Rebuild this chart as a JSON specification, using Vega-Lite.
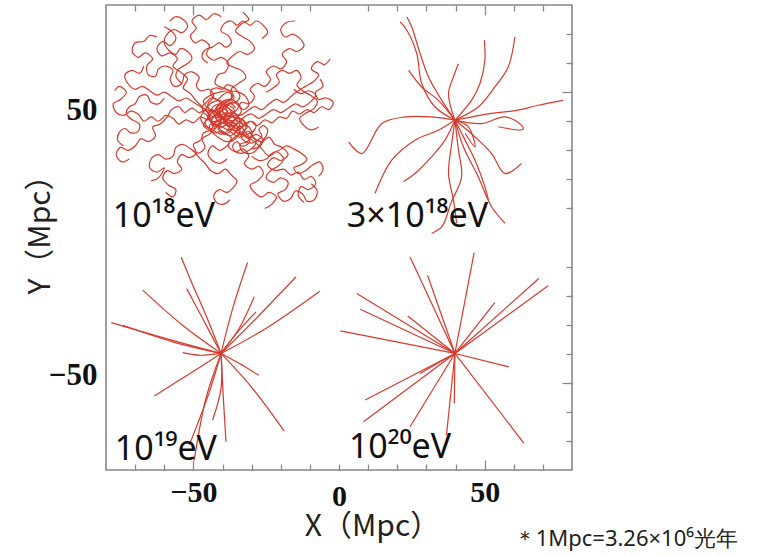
{
  "$schema": "https://vega.github.io/schema/vega-lite/v6.json",
  "width": 466,
  "height": 465,
  "autosize": "none",
  "padding": {"left": 106, "top": 5, "right": 192, "bottom": 87},
  "background": "white",
  "config": {
    "view": {"stroke": "#888888", "strokeWidth": 1.6},
    "axis": {"grid": false, "domain": false, "tickColor": "#888888", "tickWidth": 1.3}
  },
  "title": {
    "text": "＊1Mpc=3.26×10⁶光年",
    "orient": "bottom",
    "anchor": "end",
    "frame": "group",
    "dx": 166,
    "offset": -12,
    "font": "Noto Sans",
    "fontSize": 22,
    "fontWeight": "normal",
    "color": "#222222"
  },
  "datasets": {
    "paths": [
      {"t":"a1","x":-40,"y":41},{"t":"a1","x":-41.5,"y":43},{"t":"a1","x":-44,"y":43.5},{"t":"a1","x":-45,"y":46},{"t":"a1","x":-43,"y":48.5},{"t":"a1","x":-44.5,"y":51},{"t":"a1","x":-47.5,"y":50.5},{"t":"a1","x":-49,"y":52.5},{"t":"a1","x":-48,"y":55},{"t":"a1","x":-50.5,"y":57},{"t":"a1","x":-53,"y":56},{"t":"a1","x":-54,"y":53},{"t":"a1","x":-56.5,"y":52},{"t":"a1","x":-58,"y":54.5},{"t":"a1","x":-57,"y":57.5},{"t":"a1","x":-59.5,"y":59},{"t":"a1","x":-62,"y":58},{"t":"a1","x":-63,"y":55.5},{"t":"a1","x":-65.5,"y":56},{"t":"a1","x":-66,"y":59},{"t":"a1","x":-64,"y":61.5},{"t":"a1","x":-66.5,"y":63.5},{"t":"a1","x":-69,"y":62},{"t":"a1","x":-71,"y":64},{"t":"a1","x":-70,"y":67},{"t":"a1","x":-67,"y":67.5},{"t":"a1","x":-65,"y":69.5},{"t":"a1","x":-62.5,"y":69},
      {"t":"a2","x":-40,"y":41},{"t":"a2","x":-38.5,"y":43.5},{"t":"a2","x":-39.5,"y":46},{"t":"a2","x":-37,"y":47.5},{"t":"a2","x":-37.5,"y":50.5},{"t":"a2","x":-40,"y":51.5},{"t":"a2","x":-42.5,"y":53},{"t":"a2","x":-41.5,"y":56},{"t":"a2","x":-39,"y":57},{"t":"a2","x":-38,"y":60},{"t":"a2","x":-40.5,"y":62},{"t":"a2","x":-43,"y":61},{"t":"a2","x":-45.5,"y":63},{"t":"a2","x":-44.5,"y":66},{"t":"a2","x":-47,"y":68},{"t":"a2","x":-49.5,"y":67},{"t":"a2","x":-51,"y":69.5},{"t":"a2","x":-49,"y":72},{"t":"a2","x":-50.5,"y":74.5},{"t":"a2","x":-48,"y":76.5},{"t":"a2","x":-45.5,"y":75},{"t":"a2","x":-43,"y":77},{"t":"a2","x":-40.5,"y":76},
      {"t":"a3","x":-40,"y":41},{"t":"a3","x":-37.5,"y":42},{"t":"a3","x":-35,"y":44},{"t":"a3","x":-33.5,"y":46.5},{"t":"a3","x":-31,"y":46},{"t":"a3","x":-29,"y":48.5},{"t":"a3","x":-30.5,"y":51},{"t":"a3","x":-28,"y":53},{"t":"a3","x":-25.5,"y":52},{"t":"a3","x":-23.5,"y":54.5},{"t":"a3","x":-25,"y":57},{"t":"a3","x":-22.5,"y":59},{"t":"a3","x":-20,"y":58},{"t":"a3","x":-18,"y":60.5},{"t":"a3","x":-19.5,"y":63},{"t":"a3","x":-17,"y":65},{"t":"a3","x":-14.5,"y":64},{"t":"a3","x":-12,"y":66},{"t":"a3","x":-13.5,"y":68.5},{"t":"a3","x":-16,"y":70},{"t":"a3","x":-18.5,"y":69},{"t":"a3","x":-20,"y":71.5},{"t":"a3","x":-18,"y":74},{"t":"a3","x":-15,"y":74.5},
      {"t":"a4","x":-40,"y":41},{"t":"a4","x":-38,"y":39.5},{"t":"a4","x":-35.5,"y":40.5},{"t":"a4","x":-33,"y":39},{"t":"a4","x":-30.5,"y":40},{"t":"a4","x":-28,"y":38.5},{"t":"a4","x":-25.5,"y":40.5},{"t":"a4","x":-23,"y":39.5},{"t":"a4","x":-20.5,"y":41.5},{"t":"a4","x":-18,"y":41},{"t":"a4","x":-16,"y":43.5},{"t":"a4","x":-13.5,"y":42.5},{"t":"a4","x":-11,"y":44},{"t":"a4","x":-8.5,"y":43},{"t":"a4","x":-6,"y":45},{"t":"a4","x":-3.5,"y":44},{"t":"a4","x":-2,"y":46.5},{"t":"a4","x":-4.5,"y":48},{"t":"a4","x":-7,"y":47.5},{"t":"a4","x":-8,"y":50},{"t":"a4","x":-5.5,"y":52},{"t":"a4","x":-6.5,"y":54.5},
      {"t":"a5","x":-40,"y":41},{"t":"a5","x":-38.5,"y":38.5},{"t":"a5","x":-36,"y":37},{"t":"a5","x":-33.5,"y":35.5},{"t":"a5","x":-31,"y":36.5},{"t":"a5","x":-29,"y":34},{"t":"a5","x":-26.5,"y":33},{"t":"a5","x":-24,"y":34.5},{"t":"a5","x":-22,"y":32},{"t":"a5","x":-19.5,"y":31},{"t":"a5","x":-17.5,"y":28.5},{"t":"a5","x":-20,"y":26.5},{"t":"a5","x":-22.5,"y":27.5},{"t":"a5","x":-24.5,"y":25},{"t":"a5","x":-22,"y":23},{"t":"a5","x":-19,"y":23.5},{"t":"a5","x":-16.5,"y":21.5},{"t":"a5","x":-14,"y":22.5},{"t":"a5","x":-12,"y":20},{"t":"a5","x":-9.5,"y":21},{"t":"a5","x":-8,"y":18.5},{"t":"a5","x":-10.5,"y":16.5},{"t":"a5","x":-13,"y":17.5},{"t":"a5","x":-14,"y":14.5},{"t":"a5","x":-12,"y":12},
      {"t":"a6","x":-40,"y":41},{"t":"a6","x":-41.5,"y":38.5},{"t":"a6","x":-39.5,"y":36},{"t":"a6","x":-37,"y":34.5},{"t":"a6","x":-38,"y":31.5},{"t":"a6","x":-35.5,"y":29.5},{"t":"a6","x":-33,"y":30.5},{"t":"a6","x":-31,"y":28},{"t":"a6","x":-32.5,"y":25.5},{"t":"a6","x":-30,"y":23.5},{"t":"a6","x":-27.5,"y":24.5},{"t":"a6","x":-26,"y":22},{"t":"a6","x":-28,"y":19.5},{"t":"a6","x":-30.5,"y":18},{"t":"a6","x":-29,"y":15.5},{"t":"a6","x":-26.5,"y":14},{"t":"a6","x":-24,"y":15.5},{"t":"a6","x":-21.5,"y":14},{"t":"a6","x":-23,"y":11.5},{"t":"a6","x":-25.5,"y":10},
      {"t":"a7","x":-40,"y":41},{"t":"a7","x":-42.5,"y":39.5},{"t":"a7","x":-44,"y":37},{"t":"a7","x":-46.5,"y":36},{"t":"a7","x":-47.5,"y":33.5},{"t":"a7","x":-50,"y":32},{"t":"a7","x":-49,"y":29},{"t":"a7","x":-51.5,"y":27.5},{"t":"a7","x":-54,"y":28.5},{"t":"a7","x":-55.5,"y":26},{"t":"a7","x":-54,"y":23.5},{"t":"a7","x":-56.5,"y":22},{"t":"a7","x":-59,"y":23},{"t":"a7","x":-60.5,"y":20.5},{"t":"a7","x":-58.5,"y":18},{"t":"a7","x":-56,"y":16.5},{"t":"a7","x":-57,"y":14},{"t":"a7","x":-59.5,"y":15.5},
      {"t":"a8","x":-40,"y":41},{"t":"a8","x":-42.5,"y":42},{"t":"a8","x":-45,"y":40.5},{"t":"a8","x":-47.5,"y":41.5},{"t":"a8","x":-50,"y":39.5},{"t":"a8","x":-52.5,"y":40.5},{"t":"a8","x":-55,"y":39},{"t":"a8","x":-57,"y":41},{"t":"a8","x":-59.5,"y":42},{"t":"a8","x":-62,"y":40},{"t":"a8","x":-64.5,"y":41.5},{"t":"a8","x":-67,"y":40},{"t":"a8","x":-69,"y":42.5},{"t":"a8","x":-71.5,"y":43.5},{"t":"a8","x":-74,"y":42},{"t":"a8","x":-76.5,"y":43},{"t":"a8","x":-77.5,"y":46},{"t":"a8","x":-75,"y":47.5},{"t":"a8","x":-73,"y":50},{"t":"a8","x":-75.5,"y":52},{"t":"a8","x":-77,"y":50.5},
      {"t":"a9","x":-40,"y":41},{"t":"a9","x":-43,"y":42.5},{"t":"a9","x":-45.5,"y":44},{"t":"a9","x":-48,"y":43},{"t":"a9","x":-50.5,"y":44.5},{"t":"a9","x":-53,"y":43},{"t":"a9","x":-55,"y":45},{"t":"a9","x":-57.5,"y":44},{"t":"a9","x":-59,"y":41.5},{"t":"a9","x":-61.5,"y":39},{"t":"a9","x":-64,"y":38},{"t":"a9","x":-63,"y":35},{"t":"a9","x":-65.5,"y":33},{"t":"a9","x":-68,"y":34},{"t":"a9","x":-70,"y":31.5},{"t":"a9","x":-72.5,"y":30},{"t":"a9","x":-75,"y":31},{"t":"a9","x":-76.5,"y":28.5},{"t":"a9","x":-74.5,"y":26},{"t":"a9","x":-72,"y":27},
      {"t":"a10","x":-40,"y":41},{"t":"a10","x":-43.5,"y":40},{"t":"a10","x":-45,"y":43},{"t":"a10","x":-47.5,"y":45},{"t":"a10","x":-50,"y":46.5},{"t":"a10","x":-52.5,"y":48},{"t":"a10","x":-55,"y":47},{"t":"a10","x":-57.5,"y":48.5},{"t":"a10","x":-60,"y":50},{"t":"a10","x":-62.5,"y":49},{"t":"a10","x":-65,"y":50.5},{"t":"a10","x":-67.5,"y":52},{"t":"a10","x":-70,"y":51},{"t":"a10","x":-72.5,"y":53},{"t":"a10","x":-73.5,"y":56},{"t":"a10","x":-71,"y":57.5},{"t":"a10","x":-68.5,"y":56.5},{"t":"a10","x":-67,"y":59},
      {"t":"a11","x":-40,"y":41},{"t":"a11","x":-38,"y":43},{"t":"a11","x":-40.5,"y":44.5},{"t":"a11","x":-43,"y":43},{"t":"a11","x":-42,"y":40},{"t":"a11","x":-44.5,"y":38.5},{"t":"a11","x":-43,"y":36},{"t":"a11","x":-40,"y":36.5},{"t":"a11","x":-37.5,"y":35},{"t":"a11","x":-35,"y":37},{"t":"a11","x":-34,"y":40},{"t":"a11","x":-35.5,"y":42.5},{"t":"a11","x":-38,"y":44.5},{"t":"a11","x":-40.5,"y":47},{"t":"a11","x":-43.5,"y":46.5},{"t":"a11","x":-46,"y":44},{"t":"a11","x":-47.5,"y":41},{"t":"a11","x":-45.5,"y":38},{"t":"a11","x":-42.5,"y":37.5},{"t":"a11","x":-40.5,"y":39.5},{"t":"a11","x":-37.5,"y":38.5},{"t":"a11","x":-35.5,"y":41},{"t":"a11","x":-33.5,"y":43.5},{"t":"a11","x":-36,"y":46.5},{"t":"a11","x":-39,"y":45.5},{"t":"a11","x":-41,"y":42.5},
      {"t":"a12","x":-40,"y":41},{"t":"a12","x":-42.5,"y":43.5},{"t":"a12","x":-41,"y":46},{"t":"a12","x":-38,"y":47.5},{"t":"a12","x":-35,"y":46.5},{"t":"a12","x":-33,"y":44},{"t":"a12","x":-31,"y":45.5},{"t":"a12","x":-32,"y":48.5},{"t":"a12","x":-34.5,"y":50},{"t":"a12","x":-37.5,"y":50.5},{"t":"a12","x":-41,"y":50},{"t":"a12","x":-44,"y":49},{"t":"a12","x":-46.5,"y":47},{"t":"a12","x":-45,"y":44.5},{"t":"a12","x":-42,"y":43},{"t":"a12","x":-39,"y":41},{"t":"a12","x":-36.5,"y":39.5},{"t":"a12","x":-34,"y":37},{"t":"a12","x":-35.5,"y":34},{"t":"a12","x":-38.5,"y":33},{"t":"a12","x":-41.5,"y":34.5},{"t":"a12","x":-44,"y":36.5},{"t":"a12","x":-46.5,"y":38.5},{"t":"a12","x":-45,"y":41},
      {"t":"a13","x":-40,"y":41},{"t":"a13","x":-36.5,"y":40},{"t":"a13","x":-34.5,"y":38},{"t":"a13","x":-31.5,"y":38.5},{"t":"a13","x":-30,"y":36},{"t":"a13","x":-31.5,"y":33},{"t":"a13","x":-34,"y":32},{"t":"a13","x":-33,"y":29.5},{"t":"a13","x":-30,"y":29},{"t":"a13","x":-27.5,"y":31},{"t":"a13","x":-26,"y":33.5},{"t":"a13","x":-28.5,"y":35.5},{"t":"a13","x":-31,"y":34},{"t":"a13","x":-33.5,"y":35.5},{"t":"a13","x":-36.5,"y":34},{"t":"a13","x":-38.5,"y":31.5},{"t":"a13","x":-41,"y":30},{"t":"a13","x":-43.5,"y":31.5},{"t":"a13","x":-45,"y":29},{"t":"a13","x":-43.5,"y":26.5},{"t":"a13","x":-41,"y":25.5},{"t":"a13","x":-38.5,"y":27},
      {"t":"a14","x":-40,"y":41},{"t":"a14","x":-41,"y":44},{"t":"a14","x":-38.5,"y":45.5},{"t":"a14","x":-36,"y":44},{"t":"a14","x":-37,"y":41.5},{"t":"a14","x":-39.5,"y":40},{"t":"a14","x":-41.5,"y":37.5},{"t":"a14","x":-39,"y":35.5},{"t":"a14","x":-36.5,"y":37},{"t":"a14","x":-34,"y":35.5},{"t":"a14","x":-32,"y":37.5},{"t":"a14","x":-33,"y":40.5},{"t":"a14","x":-36,"y":41.5},{"t":"a14","x":-38.5,"y":43},{"t":"a14","x":-41,"y":42},{"t":"a14","x":-43.5,"y":44},{"t":"a14","x":-45,"y":41.5},{"t":"a14","x":-43,"y":39},{"t":"a14","x":-40.5,"y":38},{"t":"a14","x":-38,"y":39.5},
      {"t":"a15","x":-40,"y":41},{"t":"a15","x":-42,"y":44.5},{"t":"a15","x":-39.5,"y":46.5},{"t":"a15","x":-36,"y":48},{"t":"a15","x":-37,"y":51},{"t":"a15","x":-34.5,"y":53},{"t":"a15","x":-32,"y":55},{"t":"a15","x":-33.5,"y":57.5},{"t":"a15","x":-36,"y":58.5},{"t":"a15","x":-38.5,"y":60},{"t":"a15","x":-36.5,"y":62.5},{"t":"a15","x":-34,"y":64},{"t":"a15","x":-31.5,"y":63},{"t":"a15","x":-29,"y":65},{"t":"a15","x":-30.5,"y":67.5},{"t":"a15","x":-33,"y":69},{"t":"a15","x":-35.5,"y":71},{"t":"a15","x":-33.5,"y":73.5},{"t":"a15","x":-31,"y":75},{"t":"a15","x":-33,"y":77.5},
      {"t":"a16","x":-40,"y":41},{"t":"a16","x":-36,"y":38},{"t":"a16","x":-32,"y":35},{"t":"a16","x":-29,"y":33},{"t":"a16","x":-26.5,"y":30.5},{"t":"a16","x":-24,"y":28},{"t":"a16","x":-21.5,"y":29.5},{"t":"a16","x":-19,"y":27},{"t":"a16","x":-21,"y":24.5},{"t":"a16","x":-23.5,"y":23},{"t":"a16","x":-25,"y":20.5},{"t":"a16","x":-22.5,"y":19},{"t":"a16","x":-20,"y":20.5},{"t":"a16","x":-17.5,"y":19},{"t":"a16","x":-18.5,"y":16.5},{"t":"a16","x":-21,"y":15},{"t":"a16","x":-19,"y":12.5},{"t":"a16","x":-16.5,"y":13.5},{"t":"a16","x":-15,"y":16},{"t":"a16","x":-12.5,"y":15},{"t":"a16","x":-11,"y":12.5},{"t":"a16","x":-8.5,"y":13},{"t":"a16","x":-7.5,"y":16},{"t":"a16","x":-9.5,"y":18.5},
      {"t":"a17","x":-40,"y":41},{"t":"a17","x":-37,"y":43},{"t":"a17","x":-34,"y":42},{"t":"a17","x":-31.5,"y":43.5},{"t":"a17","x":-29,"y":45},{"t":"a17","x":-26.5,"y":44},{"t":"a17","x":-24,"y":46},{"t":"a17","x":-21.5,"y":47.5},{"t":"a17","x":-19,"y":46.5},{"t":"a17","x":-16.5,"y":48.5},{"t":"a17","x":-14,"y":50.5},{"t":"a17","x":-11.5,"y":52},{"t":"a17","x":-9,"y":53.5},{"t":"a17","x":-7,"y":56},{"t":"a17","x":-9.5,"y":58},{"t":"a17","x":-7.5,"y":60.5},{"t":"a17","x":-5,"y":59.5},{"t":"a17","x":-3,"y":61.5},
      {"t":"a18","x":-40,"y":41},{"t":"a18","x":-44,"y":42},{"t":"a18","x":-46.5,"y":44.5},{"t":"a18","x":-49,"y":47},{"t":"a18","x":-51,"y":49.5},{"t":"a18","x":-53.5,"y":51.5},{"t":"a18","x":-52,"y":54.5},{"t":"a18","x":-54.5,"y":57},{"t":"a18","x":-57,"y":59},{"t":"a18","x":-55.5,"y":61.5},{"t":"a18","x":-58,"y":63.5},{"t":"a18","x":-61,"y":62.5},{"t":"a18","x":-62.5,"y":65},{"t":"a18","x":-60.5,"y":67.5},{"t":"a18","x":-58,"y":66},{"t":"a18","x":-56,"y":68.5},{"t":"a18","x":-57.5,"y":71},{"t":"a18","x":-60,"y":72.5},
      {"t":"a19","x":-40,"y":41},{"t":"a19","x":-42,"y":38},{"t":"a19","x":-44.5,"y":35.5},{"t":"a19","x":-47,"y":34},{"t":"a19","x":-46,"y":31},{"t":"a19","x":-48.5,"y":29},{"t":"a19","x":-51,"y":30.5},{"t":"a19","x":-53.5,"y":32},{"t":"a19","x":-56,"y":31},{"t":"a19","x":-57,"y":28},{"t":"a19","x":-59.5,"y":27},{"t":"a19","x":-62,"y":28.5},{"t":"a19","x":-64.5,"y":27},{"t":"a19","x":-65,"y":24},{"t":"a19","x":-62.5,"y":22.5},{"t":"a19","x":-60,"y":24},{"t":"a19","x":-62,"y":20.5},{"t":"a19","x":-64.5,"y":19.5},
      {"t":"a20","x":-40,"y":41},{"t":"a20","x":-38,"y":38.5},{"t":"a20","x":-35,"y":39},{"t":"a20","x":-32.5,"y":41.5},{"t":"a20","x":-30,"y":42.5},{"t":"a20","x":-27.5,"y":41},{"t":"a20","x":-25,"y":42.5},{"t":"a20","x":-22.5,"y":44},{"t":"a20","x":-20,"y":43},{"t":"a20","x":-17.5,"y":44.5},{"t":"a20","x":-15,"y":46},{"t":"a20","x":-12.5,"y":45},{"t":"a20","x":-10,"y":46.5},{"t":"a20","x":-8,"y":49},{"t":"a20","x":-10.5,"y":50.5},{"t":"a20","x":-13,"y":49.5},{"t":"a20","x":-15.5,"y":51},
      {"t":"k1","x":-40,"y":41},{"t":"k1","x":-39,"y":42.5},{"t":"k1","x":-41,"y":43.5},{"t":"k1","x":-42.5,"y":42},{"t":"k1","x":-41.5,"y":40},{"t":"k1","x":-39.5,"y":39.5},{"t":"k1","x":-38,"y":41},{"t":"k1","x":-37,"y":43},{"t":"k1","x":-38.5,"y":45},{"t":"k1","x":-40.5,"y":46},{"t":"k1","x":-42.5,"y":45.5},{"t":"k1","x":-44,"y":44},{"t":"k1","x":-45,"y":42},{"t":"k1","x":-44,"y":40},{"t":"k1","x":-42,"y":38.5},{"t":"k1","x":-40,"y":38},{"t":"k1","x":-38,"y":37},{"t":"k1","x":-36,"y":38},{"t":"k1","x":-35,"y":40},{"t":"k1","x":-36.5,"y":41.5},{"t":"k1","x":-38.5,"y":42},{"t":"k1","x":-40,"y":43.5},{"t":"k1","x":-39,"y":45.5},{"t":"k1","x":-37,"y":46},{"t":"k1","x":-35.5,"y":44.5},
      {"t":"k2","x":-40,"y":41},{"t":"k2","x":-41.5,"y":39},{"t":"k2","x":-43.5,"y":39.5},{"t":"k2","x":-44.5,"y":41.5},{"t":"k2","x":-43,"y":43.5},{"t":"k2","x":-41,"y":44},{"t":"k2","x":-40.5,"y":46},{"t":"k2","x":-42,"y":47.5},{"t":"k2","x":-44,"y":48},{"t":"k2","x":-45.5,"y":46.5},{"t":"k2","x":-47,"y":45},{"t":"k2","x":-46.5,"y":43},{"t":"k2","x":-45,"y":41.5},{"t":"k2","x":-46,"y":39.5},{"t":"k2","x":-44.5,"y":37.5},{"t":"k2","x":-42.5,"y":36.5},{"t":"k2","x":-40.5,"y":35.5},{"t":"k2","x":-38.5,"y":36.5},{"t":"k2","x":-37.5,"y":38.5},{"t":"k2","x":-38.5,"y":40},{"t":"k2","x":-37,"y":41.5},{"t":"k2","x":-35,"y":42},{"t":"k2","x":-34,"y":40.5},{"t":"k2","x":-33,"y":38.5},{"t":"k2","x":-34.5,"y":37},
      {"t":"k3","x":-38,"y":37},{"t":"k3","x":-36,"y":35.5},{"t":"k3","x":-34,"y":34.5},{"t":"k3","x":-33,"y":36.5},{"t":"k3","x":-31.5,"y":38},{"t":"k3","x":-32.5,"y":40},{"t":"k3","x":-34.5,"y":41},{"t":"k3","x":-36.5,"y":40},{"t":"k3","x":-37,"y":38.5},{"t":"k3","x":-35.5,"y":37.5},{"t":"k3","x":-34,"y":38.5},{"t":"k3","x":-32,"y":36},{"t":"k3","x":-30.5,"y":34},{"t":"k3","x":-31.5,"y":32},{"t":"k3","x":-33.5,"y":31.5},{"t":"k3","x":-35,"y":33},{"t":"k3","x":-36.5,"y":31.5},{"t":"k3","x":-35.5,"y":29.5},{"t":"k3","x":-33,"y":29},{"t":"k3","x":-31,"y":30},{"t":"k3","x":-29,"y":31.5},{"t":"k3","x":-28.5,"y":33.5},{"t":"k3","x":-30,"y":35},{"t":"k3","x":-29,"y":37},
      {"t":"k4","x":-42,"y":44},{"t":"k4","x":-40,"y":45.5},{"t":"k4","x":-38,"y":47},{"t":"k4","x":-36.5,"y":48.5},{"t":"k4","x":-38,"y":50},{"t":"k4","x":-40,"y":49},{"t":"k4","x":-41.5,"y":47.5},{"t":"k4","x":-43.5,"y":48.5},{"t":"k4","x":-44,"y":50.5},{"t":"k4","x":-42,"y":51.5},{"t":"k4","x":-40,"y":51},{"t":"k4","x":-38.5,"y":52.5},{"t":"k4","x":-36.5,"y":52},{"t":"k4","x":-35,"y":50.5},{"t":"k4","x":-34,"y":48.5},{"t":"k4","x":-35.5,"y":46.5},{"t":"k4","x":-37.5,"y":46},{"t":"k4","x":-39,"y":44.5},{"t":"k4","x":-41,"y":43},{"t":"k4","x":-43,"y":41.5},{"t":"k4","x":-44,"y":39.5},{"t":"k4","x":-42.5,"y":38},{"t":"k4","x":-41,"y":39.5},
      {"t":"k5","x":-36,"y":36},{"t":"k5","x":-34,"y":37.5},{"t":"k5","x":-32,"y":39},{"t":"k5","x":-30,"y":40},{"t":"k5","x":-28.5,"y":38.5},{"t":"k5","x":-29.5,"y":36.5},{"t":"k5","x":-31.5,"y":35.5},{"t":"k5","x":-33.5,"y":34.5},{"t":"k5","x":-32,"y":33},{"t":"k5","x":-30,"y":32.5},{"t":"k5","x":-28,"y":33.5},{"t":"k5","x":-26.5,"y":35},{"t":"k5","x":-27.5,"y":37},{"t":"k5","x":-26,"y":38.5},{"t":"k5","x":-24.5,"y":37},{"t":"k5","x":-25,"y":35},{"t":"k5","x":-26.5,"y":33},{"t":"k5","x":-28,"y":31},{"t":"k5","x":-30,"y":30.5},
      {"t":"x1","x":-54,"y":53},{"t":"x1","x":-56,"y":55.5},{"t":"x1","x":-55,"y":58},{"t":"x1","x":-52.5,"y":59.5},{"t":"x1","x":-50.5,"y":61.5},{"t":"x1","x":-52,"y":64},{"t":"x1","x":-54.5,"y":65},{"t":"x1","x":-56,"y":63},{"t":"x1","x":-58.5,"y":64.5},{"t":"x1","x":-60,"y":67},{"t":"x1","x":-59,"y":70},{"t":"x1","x":-56.5,"y":71.5},{"t":"x1","x":-54,"y":70.5},{"t":"x1","x":-52,"y":72.5},{"t":"x1","x":-53.5,"y":75},{"t":"x1","x":-56,"y":76},{"t":"x1","x":-58,"y":74.5},
      {"t":"x2","x":-60,"y":48},{"t":"x2","x":-62,"y":46},{"t":"x2","x":-64.5,"y":46.5},{"t":"x2","x":-66,"y":49},{"t":"x2","x":-68.5,"y":48.5},{"t":"x2","x":-70,"y":46},{"t":"x2","x":-72,"y":45},{"t":"x2","x":-73,"y":42.5},{"t":"x2","x":-71,"y":40.5},{"t":"x2","x":-68.5,"y":39},{"t":"x2","x":-69,"y":36.5},{"t":"x2","x":-71.5,"y":36},{"t":"x2","x":-73.5,"y":37.5},{"t":"x2","x":-75.5,"y":36},{"t":"x2","x":-76,"y":33.5},{"t":"x2","x":-74,"y":31.5},
      {"t":"x3","x":-45,"y":60},{"t":"x3","x":-47,"y":62},{"t":"x3","x":-46,"y":64.5},{"t":"x3","x":-43.5,"y":65.5},{"t":"x3","x":-41,"y":67},{"t":"x3","x":-39,"y":65.5},{"t":"x3","x":-37,"y":67},{"t":"x3","x":-38,"y":69.5},{"t":"x3","x":-40.5,"y":71},{"t":"x3","x":-39.5,"y":73.5},{"t":"x3","x":-37,"y":74.5},{"t":"x3","x":-35,"y":73},{"t":"x3","x":-33,"y":74.5},{"t":"x3","x":-30.5,"y":73},{"t":"x3","x":-28.5,"y":74.5},{"t":"x3","x":-26,"y":73},{"t":"x3","x":-24.5,"y":70.5},{"t":"x3","x":-26.5,"y":68.5},
      {"t":"x4","x":-25,"y":50},{"t":"x4","x":-22.5,"y":51.5},{"t":"x4","x":-20.5,"y":53.5},{"t":"x4","x":-21.5,"y":56},{"t":"x4","x":-19.5,"y":57.5},{"t":"x4","x":-17,"y":56.5},{"t":"x4","x":-14.5,"y":57.5},{"t":"x4","x":-13,"y":55},{"t":"x4","x":-14.5,"y":52.5},{"t":"x4","x":-12.5,"y":50.5},{"t":"x4","x":-10,"y":49},{"t":"x4","x":-7.5,"y":47},{"t":"x4","x":-8.5,"y":44.5},{"t":"x4","x":-11,"y":43},{"t":"x4","x":-13.5,"y":41},{"t":"x4","x":-12,"y":38.5},{"t":"x4","x":-9.5,"y":37},{"t":"x4","x":-7,"y":38},
      {"t":"x5","x":-50,"y":30},{"t":"x5","x":-48,"y":27.5},{"t":"x5","x":-46,"y":25.5},{"t":"x5","x":-44,"y":23},{"t":"x5","x":-41.5,"y":22},{"t":"x5","x":-39,"y":23.5},{"t":"x5","x":-37,"y":21.5},{"t":"x5","x":-35,"y":19.5},{"t":"x5","x":-36.5,"y":17},{"t":"x5","x":-38.5,"y":15.5},{"t":"x5","x":-41,"y":16.5},{"t":"x5","x":-43,"y":14.5},{"t":"x5","x":-42,"y":12},{"t":"x5","x":-39.5,"y":11.5},{"t":"x5","x":-37.5,"y":13},
      {"t":"x6","x":-30,"y":28},{"t":"x6","x":-27.5,"y":26.5},{"t":"x6","x":-25,"y":27},{"t":"x6","x":-23,"y":29},{"t":"x6","x":-20.5,"y":30},{"t":"x6","x":-18,"y":31.5},{"t":"x6","x":-15.5,"y":30.5},{"t":"x6","x":-13,"y":29},{"t":"x6","x":-11,"y":27},{"t":"x6","x":-13,"y":25},{"t":"x6","x":-15.5,"y":24},{"t":"x6","x":-14,"y":22},{"t":"x6","x":-11.5,"y":23},{"t":"x6","x":-9,"y":25},{"t":"x6","x":-6.5,"y":26},{"t":"x6","x":-5.5,"y":23.5},{"t":"x6","x":-7,"y":21},

      {"t":"b1","x":39.8,"y":40.4},{"t":"b1","x":33.0,"y":44.9},{"t":"b1","x":28.4,"y":53.0},{"t":"b1","x":26.7,"y":63.3},{"t":"b1","x":23.3,"y":71.3},{"t":"b1","x":21.0,"y":74.2},
      {"t":"b2","x":39.8,"y":40.4},{"t":"b2","x":35.3,"y":47.2},{"t":"b2","x":30.7,"y":55.3},{"t":"b2","x":27.5,"y":64.4},{"t":"b2","x":25.0,"y":72.4},{"t":"b2","x":23.3,"y":75.9},
      {"t":"b3","x":39.8,"y":40.4},{"t":"b3","x":37.6,"y":49.5},{"t":"b3","x":39.3,"y":55.3},{"t":"b3","x":41.0,"y":59.8},
      {"t":"b4","x":39.8,"y":40.4},{"t":"b4","x":34.1,"y":47.2},{"t":"b4","x":28.4,"y":51.8},{"t":"b4","x":23.9,"y":57.5},
      {"t":"b5","x":39.8,"y":40.4},{"t":"b5","x":45.5,"y":47.2},{"t":"b5","x":48.4,"y":53.0},{"t":"b5","x":50.1,"y":61.0},{"t":"b5","x":49.9,"y":67.9},
      {"t":"b6","x":39.8,"y":40.4},{"t":"b6","x":47.8,"y":44.9},{"t":"b6","x":53.5,"y":51.8},{"t":"b6","x":58.1,"y":58.7},{"t":"b6","x":60.4,"y":69.0},
      {"t":"b7","x":39.8,"y":40.4},{"t":"b7","x":52.4,"y":42.7},{"t":"b7","x":61.5,"y":43.8},{"t":"b7","x":68.4,"y":45.5},{"t":"b7","x":76.9,"y":47.2},
      {"t":"b8","x":39.8,"y":40.4},{"t":"b8","x":49.0,"y":39.2},{"t":"b8","x":57.0,"y":41.5},{"t":"b8","x":62.7,"y":38.6},{"t":"b8","x":63.2,"y":37.2},{"t":"b8","x":54.7,"y":38.1},
      {"t":"b9","x":39.8,"y":40.4},{"t":"b9","x":46.7,"y":34.6},{"t":"b9","x":52.4,"y":28.9},{"t":"b9","x":57.0,"y":22.0},{"t":"b9","x":62.7,"y":25.5},
      {"t":"b10","x":39.8,"y":40.4},{"t":"b10","x":43.3,"y":33.5},{"t":"b10","x":46.7,"y":26.6},{"t":"b10","x":50.1,"y":17.5},{"t":"b10","x":51.3,"y":12.9},
      {"t":"b11","x":39.8,"y":40.4},{"t":"b11","x":38.7,"y":32.3},{"t":"b11","x":37.6,"y":22.0},{"t":"b11","x":39.3,"y":12.9},{"t":"b11","x":40.4,"y":4.9},
      {"t":"b12","x":39.8,"y":40.4},{"t":"b12","x":41.0,"y":30.1},{"t":"b12","x":42.1,"y":20.9},{"t":"b12","x":38.5,"y":12.0},{"t":"b12","x":35.3,"y":3.7},{"t":"b12","x":31.8,"y":1.4},
      {"t":"b13","x":39.8,"y":40.4},{"t":"b13","x":31.8,"y":41.5},{"t":"b13","x":22.7,"y":41.5},{"t":"b13","x":14.7,"y":39.2},{"t":"b13","x":7.9,"y":28.9},{"t":"b13","x":3.3,"y":32.9},
      {"t":"b14","x":39.8,"y":40.4},{"t":"b14","x":34.1,"y":36.9},{"t":"b14","x":26.1,"y":33.5},{"t":"b14","x":18.1,"y":26.6},{"t":"b14","x":12.4,"y":15.2},
      {"t":"b15","x":39.8,"y":40.4},{"t":"b15","x":36.4,"y":33.5},{"t":"b15","x":31.8,"y":27.8},{"t":"b15","x":26.1,"y":22.0},{"t":"b15","x":22.1,"y":19.2},
      {"t":"b16","x":39.8,"y":40.4},{"t":"b16","x":42.7,"y":31.2},{"t":"b16","x":47.8,"y":20.9},{"t":"b16","x":52.4,"y":10.6},{"t":"b16","x":57.0,"y":4.9},
      {"t":"b17","x":39.8,"y":40.4},{"t":"b17","x":44.4,"y":38.1},{"t":"b17","x":46.7,"y":31.2},{"t":"b17","x":43.3,"y":35.8},

      {"t":"c1","x":-40.5,"y":-39.9},{"t":"c1","x":-45.7,"y":-26.7},{"t":"c1","x":-50.2,"y":-16.4},{"t":"c1","x":-54.2,"y":-6.7},
      {"t":"c2","x":-40.5,"y":-39.9},{"t":"c2","x":-46.8,"y":-27.9},{"t":"c2","x":-52.3,"y":-17.6},
      {"t":"c3","x":-40.5,"y":-39.9},{"t":"c3","x":-36.5,"y":-24.4},{"t":"c3","x":-31.4,"y":-8.6},
      {"t":"c4","x":-40.5,"y":-39.9},{"t":"c4","x":-34.3,"y":-31.3},{"t":"c4","x":-29.1,"y":-20.4},
      {"t":"c5","x":-40.5,"y":-39.9},{"t":"c5","x":-34.8,"y":-32.5},{"t":"c5","x":-28.5,"y":-25.6},
      {"t":"c6","x":-40.5,"y":-39.9},{"t":"c6","x":-28.5,"y":-27.9},{"t":"c6","x":-14.8,"y":-13.6},
      {"t":"c7","x":-40.5,"y":-39.9},{"t":"c7","x":-25.1,"y":-31.3},{"t":"c7","x":-6.6,"y":-18.5},
      {"t":"c8","x":-40.5,"y":-39.9},{"t":"c8","x":-59.4,"y":-34.8},{"t":"c8","x":-78.2,"y":-29.3},
      {"t":"c9","x":-40.5,"y":-39.9},{"t":"c9","x":-57.1,"y":-35.9},{"t":"c9","x":-74.2,"y":-30.2},
      {"t":"c10","x":-40.5,"y":-39.9},{"t":"c10","x":-53.7,"y":-30.2},{"t":"c10","x":-67.4,"y":-18.1},
      {"t":"c11","x":-40.5,"y":-39.9},{"t":"c11","x":-48.0,"y":-40.5},{"t":"c11","x":-53.7,"y":-39.6},
      {"t":"c12","x":-40.5,"y":-39.9},{"t":"c12","x":-50.2,"y":-46.2},{"t":"c12","x":-63.4,"y":-54.5},
      {"t":"c13","x":-40.5,"y":-39.9},{"t":"c13","x":-45.7,"y":-55.4},{"t":"c13","x":-49.7,"y":-76.6},
      {"t":"c14","x":-40.5,"y":-39.9},{"t":"c14","x":-44.5,"y":-53.1},{"t":"c14","x":-51.4,"y":-71.4},
      {"t":"c15","x":-40.5,"y":-39.9},{"t":"c15","x":-40.5,"y":-51.9},{"t":"c15","x":-43.4,"y":-62.8},
      {"t":"c16","x":-40.5,"y":-39.9},{"t":"c16","x":-39.7,"y":-55.4},{"t":"c16","x":-38.8,"y":-70.3},
      {"t":"c17","x":-40.5,"y":-39.9},{"t":"c17","x":-34.3,"y":-43.3},{"t":"c17","x":-27.6,"y":-47.4},
      {"t":"c18","x":-40.5,"y":-39.9},{"t":"c18","x":-29.7,"y":-51.9},{"t":"c18","x":-18.8,"y":-66.6},

      {"t":"d1","x":39.8,"y":-39.9},{"t":"d1","x":24.4,"y":-6.7},
      {"t":"d2","x":39.8,"y":-39.9},{"t":"d2","x":46.4,"y":-5.2},
      {"t":"d3","x":39.8,"y":-39.9},{"t":"d3","x":30.4,"y":-13.0},
      {"t":"d4","x":39.8,"y":-39.9},{"t":"d4","x":6.1,"y":-19.3},
      {"t":"d5","x":39.8,"y":-39.9},{"t":"d5","x":7.3,"y":-24.7},
      {"t":"d6","x":39.8,"y":-39.9},{"t":"d6","x":23.6,"y":-27.0},
      {"t":"d7","x":39.8,"y":-39.9},{"t":"d7","x":0.5,"y":-32.1},
      {"t":"d8","x":39.8,"y":-39.9},{"t":"d8","x":53.5,"y":-22.4},
      {"t":"d9","x":39.8,"y":-39.9},{"t":"d9","x":68.6,"y":-14.1},
      {"t":"d10","x":39.8,"y":-39.9},{"t":"d10","x":71.8,"y":-16.6},
      {"t":"d11","x":39.8,"y":-39.9},{"t":"d11","x":58.3,"y":-44.5},
      {"t":"d12","x":39.8,"y":-39.9},{"t":"d12","x":63.5,"y":-70.8},
      {"t":"d13","x":39.8,"y":-39.9},{"t":"d13","x":39.6,"y":-57.1},
      {"t":"d14","x":39.8,"y":-39.9},{"t":"d14","x":36.9,"y":-68.0},
      {"t":"d15","x":39.8,"y":-39.9},{"t":"d15","x":24.4,"y":-65.1},
      {"t":"d16","x":39.8,"y":-39.9},{"t":"d16","x":8.4,"y":-63.4},
      {"t":"d17","x":39.8,"y":-39.9},{"t":"d17","x":9.0,"y":-55.9},
      {"t":"d18","x":39.8,"y":-39.9},{"t":"d18","x":27.8,"y":-46.8}
    ],
    "labels": [
      {"lab":"10¹⁸eV","x":-77.7,"y":3.6},
      {"lab":"3×10¹⁸eV","x":2.7,"y":3.6},
      {"lab":"10¹⁹eV","x":-77.0,"y":-76.5},
      {"lab":"10²⁰eV","x":3.4,"y":-76.0}
    ]
  },
  "layer": [
    {
      "mark": {"type": "rule", "color": "#888888", "strokeWidth": 1.6},
      "encoding": {
        "x": {
          "datum": 0,
          "type": "quantitative",
          "scale": {"domain": [-80, 80], "nice": false, "zero": false},
          "axis": {
            "orient": "top",
            "values": [-70, -60, -50, -40, -30, -20, -10, 10, 20, 30, 40, 50, 60, 70],
            "labels": false,
            "title": null,
            "tickSize": {"condition": {"test": "abs(datum.value) == 50", "value": -10}, "value": -6}
          }
        }
      }
    },
    {
      "mark": {"type": "rule", "color": "#888888", "strokeWidth": 1.6},
      "encoding": {
        "y": {
          "datum": 0,
          "type": "quantitative",
          "scale": {"domain": [-80, 80], "nice": false, "zero": false},
          "axis": {
            "orient": "right",
            "values": [-70, -60, -50, -40, -30, -20, -10, 10, 20, 30, 40, 50, 60, 70],
            "labels": false,
            "title": null,
            "tickSize": {"condition": {"test": "abs(datum.value) == 50", "value": -10}, "value": -6}
          }
        }
      }
    },
    {
      "data": {"name": "paths"},
      "mark": {"type": "line", "color": "#d63a2d", "strokeWidth": 1.2, "interpolate": "catmull-rom"},
      "encoding": {
        "x": {
          "field": "x",
          "type": "quantitative",
          "scale": {"domain": [-80, 80], "nice": false, "zero": false},
          "axis": {
            "orient": "bottom",
            "values": [-70, -60, -50, -40, -30, -20, -10, 0, 10, 20, 30, 40, 50, 60, 70],
            "labelExpr": "abs(datum.value) == 50 || datum.value == 0 ? datum.label : ''",
            "tickSize": {"condition": {"test": "abs(datum.value) == 50", "value": -10}, "value": -6},
            "labelFont": "Liberation Serif",
            "labelFontSize": 30,
            "labelFontWeight": "bold",
            "labelColor": "#111111",
            "labelPadding": 17,
            "labelOverlap": false,
            "labelFlush": false,
            "title": "X（Mpc）",
            "titleFont": "Noto Sans CJK JP",
            "titleFontSize": 30,
            "titleFontWeight": "normal",
            "titleColor": "#222222",
            "titleBaseline": "middle",
            "titleX": 266,
            "titleY": 56
          }
        },
        "y": {
          "field": "y",
          "type": "quantitative",
          "scale": {"domain": [-80, 80], "nice": false, "zero": false},
          "axis": {
            "orient": "left",
            "values": [-50, 50],
            "ticks": false,
            "labelOffset": {"condition": {"test": "datum.value > 0", "value": 18}, "value": -7},
            "labelFont": "Liberation Serif",
            "labelFontSize": 31,
            "labelFontWeight": "bold",
            "labelColor": "#111111",
            "labelPadding": 9,
            "title": "Y（Mpc）",
            "titleFont": "Noto Sans CJK JP",
            "titleFontSize": 30,
            "titleFontWeight": "normal",
            "titleColor": "#222222",
            "titleX": -51,
            "titleY": 222
          }
        },
        "detail": {"field": "t"},
        "order": {"value": null}
      }
    },
    {
      "data": {"name": "labels"},
      "mark": {"type": "text", "align": "left", "baseline": "alphabetic", "font": "Noto Sans", "fontSize": 34, "color": "#111111"},
      "encoding": {
        "x": {"field": "x", "type": "quantitative", "axis": null},
        "y": {"field": "y", "type": "quantitative", "axis": null},
        "text": {"field": "lab"}
      }
    }
  ],
  "resolve": {"axis": {"x": "independent", "y": "independent"}}
}
